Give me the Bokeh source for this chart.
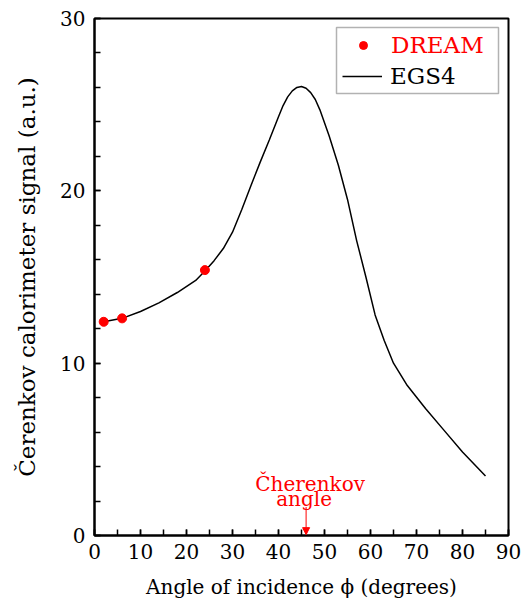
from bokeh.plotting import figure
from bokeh.models import (Legend, LegendItem, Label, Arrow, NormalHead,
                          BoxAnnotation, FixedTicker)
from bokeh.embed import file_html
from bokeh.resources import INLINE

# ---------------- data ----------------
dream_angle = [2, 6, 24]
dream_signal = [12.4, 12.6, 15.4]

egs4_angle = [2, 6, 10, 14, 18, 22, 24, 26, 28, 30, 32, 34, 36, 38, 40,
              41, 42, 43, 44, 45, 46, 47, 48, 49, 51, 53, 55, 57, 59, 61,
              63, 65, 68, 72, 76, 80, 85]
egs4_signal = [12.4, 12.6, 13.0, 13.5, 14.1, 14.8, 15.35, 15.95, 16.65,
               17.6, 18.9, 20.3, 21.65, 22.95, 24.3,
               24.95, 25.45, 25.8, 26.0, 26.05, 25.95, 25.7, 25.3, 24.7,
               23.2, 21.5, 19.5, 17.1, 15.0, 12.8,
               11.3, 10.0, 8.7, 7.35, 6.1, 4.85, 3.45]

cherenkov_angle = 46

x_ticks = [0, 10, 20, 30, 40, 50, 60, 70, 80, 90]
x_minor = [0, 5, 10, 15, 20, 25, 30, 35, 40, 45, 50, 55, 60, 65, 70, 75, 80, 85, 90]
y_ticks = [0, 10, 20, 30]
y_minor = [0, 2, 4, 6, 8, 10, 12, 14, 16, 18, 20, 22, 24, 26, 28, 30]

FONT = "DejaVu Serif"

p = figure(width=530, height=603, x_range=(0, 90), y_range=(0, 30),
           output_backend="svg", toolbar_location=None,
           min_border_left=94, min_border_right=22,
           min_border_top=18, min_border_bottom=68)

p.xgrid.visible = False
p.ygrid.visible = False
p.outline_line_color = "black"
p.outline_line_width = 2
p.outline_line_alpha = 1
p.background_fill_color = "white"
p.border_fill_color = "white"

p.xaxis.ticker = FixedTicker(ticks=x_ticks, minor_ticks=x_minor)
p.yaxis.ticker = FixedTicker(ticks=y_ticks, minor_ticks=y_minor)

for ax in (p.xaxis[0], p.yaxis[0]):
    ax.axis_line_width = 2
    ax.axis_line_color = "black"
    ax.major_tick_in = 6
    ax.major_tick_out = 0
    ax.minor_tick_in = 6
    ax.minor_tick_out = 0
    ax.major_tick_line_width = 1.5
    ax.minor_tick_line_width = 1.5
    ax.major_tick_line_color = "black"
    ax.minor_tick_line_color = "black"
    ax.major_label_text_font = FONT
    ax.major_label_text_font_size = "20px"
    ax.major_label_text_color = "black"
    ax.axis_label_text_font = FONT
    ax.axis_label_text_font_style = "normal"
    ax.axis_label_text_color = "black"

p.xaxis.axis_label = "Angle of incidence \u03d5 (degrees)"
p.xaxis.axis_label_text_font_size = "20px"
p.xaxis.major_label_standoff = 8
p.xaxis.axis_label_standoff = 13

p.yaxis.axis_label = "\u010cerenkov calorimeter signal (a.u.)"
p.yaxis.axis_label_text_font_size = "23px"
p.yaxis.major_label_standoff = 9
p.yaxis.axis_label_standoff = 17

ln = p.line(egs4_angle, egs4_signal, line_color="black", line_width=1.5)
sc = p.scatter(dream_angle, dream_signal, size=9, color="red")

# legend: two entries with different text colours inside one box
box = BoxAnnotation(left=242, right=404, bottom=442, top=508,
                    left_units="screen", right_units="screen",
                    bottom_units="screen", top_units="screen",
                    fill_alpha=0, line_color="black", line_width=1.5)
p.add_layout(box)

common = dict(border_line_alpha=0, background_fill_alpha=0, padding=0,
              margin=0, spacing=0, glyph_width=40, glyph_height=20,
              label_height=26, label_standoff=8,
              label_text_font=FONT, label_text_font_size="23px")
leg1 = Legend(items=[LegendItem(label="DREAM", renderers=[sc])],
              location=(249, 477), label_text_color="red", **common)
leg2 = Legend(items=[LegendItem(label="EGS4", renderers=[ln])],
              location=(248, 446), label_text_color="black", **common)
p.add_layout(leg1)
p.add_layout(leg2)

# Cherenkov angle annotation
p.add_layout(Arrow(end=NormalHead(size=7, fill_color="red", line_color="red"),
                   x_start=cherenkov_angle, y_start=1.65,
                   x_end=cherenkov_angle, y_end=0.05,
                   line_color="red", line_width=1))
p.add_layout(Label(x=cherenkov_angle, y=3.0, x_offset=4, text="\u010cherenkov",
                   text_align="center", text_baseline="alphabetic",
                   text_color="red", text_font=FONT, text_font_size="20px"))
p.add_layout(Label(x=cherenkov_angle, y=2.1, x_offset=-2, text="angle",
                   text_align="center", text_baseline="alphabetic",
                   text_color="red", text_font=FONT, text_font_size="20px"))

open("out.html", "w").write(file_html(p, INLINE))
